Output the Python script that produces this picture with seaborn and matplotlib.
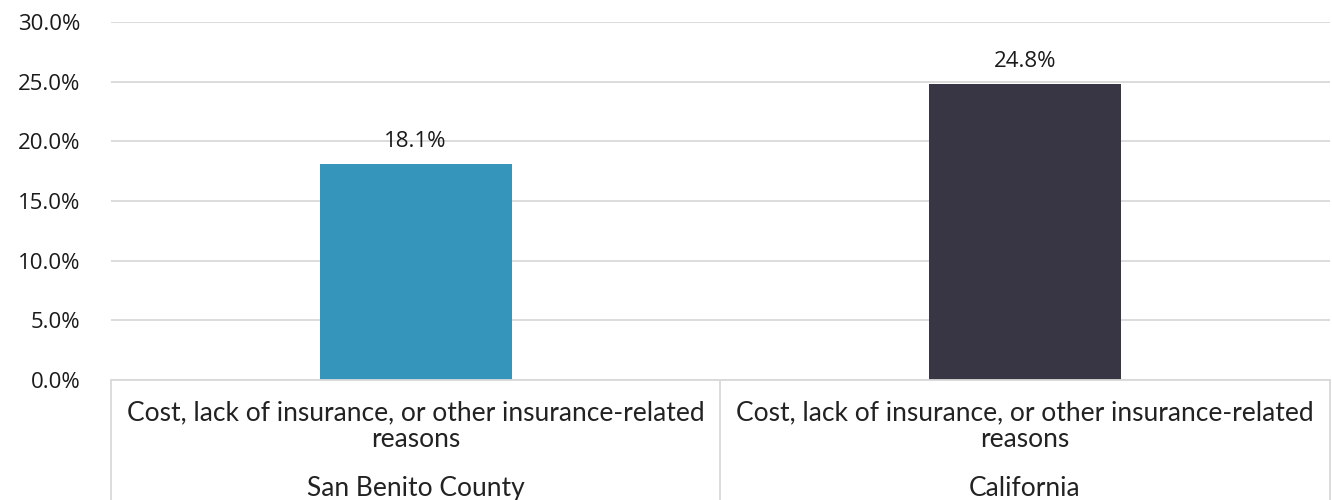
import matplotlib.pyplot as plt
import seaborn as sns
import pandas as pd
from matplotlib.ticker import PercentFormatter

regions = ['San Benito County', 'California']
reason = 'Cost, lack of insurance, or other insurance-related\nreasons'
values = [18.1, 24.8]
bar_colors = ['#3595BA', '#383545']

df = pd.DataFrame({'Region': regions, 'Value': values})

sns.set_style('white')
plt.rcParams['font.family'] = ['Open Sans', 'DejaVu Sans']

fig = plt.figure(figsize=(13.32, 5), dpi=100)
ax = fig.add_axes([0.0833, 0.24, 0.915, 0.716])

sns.barplot(x='Region', y='Value', data=df, hue='Region', palette=bar_colors,
            width=0.315, legend=False, ax=ax, saturation=1, linewidth=0)

ax.set_ylim(0, 30)
ax.set_yticks(range(0, 31, 5))
ax.yaxis.set_major_formatter(PercentFormatter(decimals=1))
ax.grid(axis='y', color='#D9D9D9', linewidth=1.3)
ax.set_axisbelow(True)
for s in ['top', 'right', 'left']:
    ax.spines[s].set_visible(False)
ax.spines['bottom'].set_color('#D9D9D9')
ax.spines['bottom'].set_linewidth(1.3)
ax.tick_params(axis='y', length=0, pad=22, labelsize=16, labelcolor='#1a1a1a')
ax.set_xticks([])
ax.set_xlabel('')
ax.set_ylabel('')
ax.set_xlim(-0.5, 1.5)

for i, v in enumerate(values):
    ax.text(i, v + 1.0, f'{v:.1f}%', ha='center', va='bottom', fontsize=16, color='#1a1a1a')

# multi-level category axis
trans = ax.get_xaxis_transform()
for xb in [-0.5, 0.5, 1.5]:
    ax.plot([xb, xb], [0, -0.34], transform=trans, color='#D9D9D9', lw=1.3, clip_on=False)
cat_font = dict(ha='center', va='center', fontsize=19, color='#222222',
                family=['Lato', 'DejaVu Sans'], transform=trans)
line1, line2 = reason.split('\n')
for i, r in enumerate(regions):
    ax.text(i, -0.092, line1, **cat_font)
    ax.text(i, -0.167, line2, **cat_font)
    ax.text(i, -0.302, r, **cat_font)

fig.savefig('out.png', dpi=100)
